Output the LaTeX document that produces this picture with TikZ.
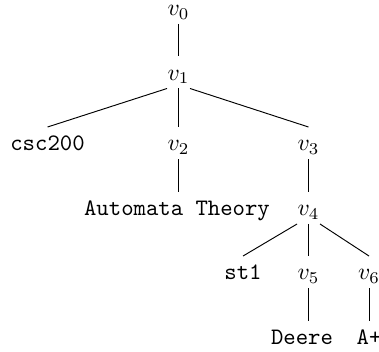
\documentclass[tikz,border=0pt]{standalone}
\usepackage{tikz}

\begin{document}
\begin{tikzpicture}[scale=1.0, every node/.style={inner xsep=0pt, text height=6.5pt, text depth=0pt},
    leaf/.style={font=\ttfamily}]
        \useasboundingbox (0,0) rectangle (5.647,-5.230);
        % Draw the vertex nodes
        \node (v0) at (2.660,-0.119) {$v_0$};
        \node (v1) at (2.660,-1.080) {$v_1$};
        \node (v2) at (2.660,-2.131) {$v_2$};
        \node (v3) at (4.597,-2.131) {$v_3$};
        \node (v4) at (4.597,-3.099) {$v_4$};
        \node (v5) at (4.597,-4.053) {$v_5$};
        \node (v6) at (5.498,-4.053) {$v_6$};
        % Draw the leaf labels
        \node[leaf] (csc) at (0.708,-2.131) {csc200};
        \node[leaf] (auto) at (2.637,-3.099) {Automata Theory};
        \node[leaf] (st) at (3.621,-4.053) {st1};
        \node[leaf] (deere) at (4.500,-5.021) {Deere};
        \node[leaf] (aplus) at (5.498,-5.021) {A+};
        % Draw the straight edges
        \foreach \a/\b in {v0/v1, v1/v2, v3/v4, v4/v5, v6/aplus}
        \draw (\a.south) -- (\b.north);
        \draw (v2.south) -- (v2.south |- auto.north);
        \draw (v5.south) -- (v5.south |- deere.north);
        % Draw the slanted edges
        \draw (v1.south west) -- (csc.north);
        \draw (v1.south east) -- (v3.north);
        \draw (v4.south west) -- (st.north);
        \draw (v4.south east) -- (v6.north);
    \end{tikzpicture}
\end{document}
